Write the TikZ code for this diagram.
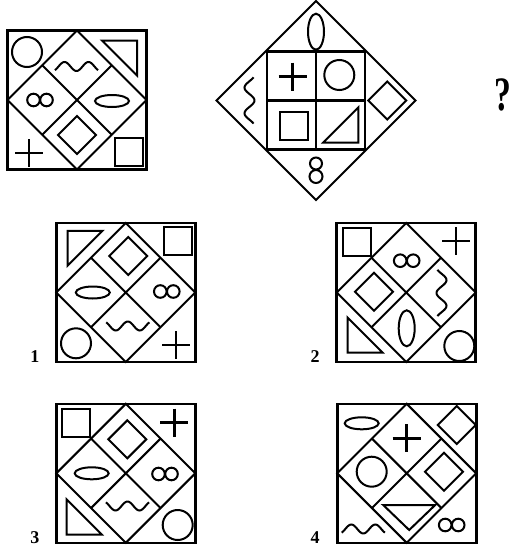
\documentclass[tikz,border=0pt]{standalone}
\usepackage{fontspec}
\setmainfont{Liberation Serif}
\usepackage{tikz}

\tikzset{
  box/.style={line width=2.6pt},
  grid/.style={line width=2pt},
  fig/.style={line width=2pt},
  num/.style={font=\fontsize{18}{18}\selectfont\bfseries, anchor=base},
  frame/.pic={
    \draw[grid] (0,-69.5) -- (69.5,0) -- (0,69.5) -- (-69.5,0) -- cycle;
    \draw[grid] (-34.75,-34.75) -- (34.75,34.75) (34.75,-34.75) -- (-34.75,34.75);
    \draw[box] (-69.5,-69.5) rectangle (69.5,69.5);
  },
  circ/.pic={\draw[fig] (0,0) circle (15);},
  sq/.pic={\draw[fig] (-14,-14) rectangle (14,14);},
  dmd/.pic={\draw[fig] (0,-19) -- (19,0) -- (0,19) -- (-19,0) -- cycle;},
  ell/.pic={\draw[fig] (0,0) ellipse (17 and 6);},
  vell/.pic={\draw[fig] (0,0) ellipse (8 and 18);},
  plus/.pic={\draw[fig, line width=2.5pt] (-14,0) -- (14,0) (0,-14) -- (0,14);},
  infty/.pic={\draw[fig] (-6.5,0) circle (6.3) (6.5,0) circle (6.3);},
  eight/.pic={\draw[fig] (0,-6.5) circle (6) (0,6.5) circle (6.5);},
  wave/.pic={\draw[fig] plot[domain=-144:504, samples=50, smooth] ({\x/15-12}, {-4.5*cos(\x)});},
  vwave/.pic={\draw[fig] plot[domain=-144:504, samples=50, smooth] ({-5*cos(\x)}, {\x/14-12.9});},
  tri/.pic={\draw[fig] (-17.5,-17.5) -- (17.5,-17.5) -- (-17.5,17.5) -- cycle;},
  tridown/.pic={\draw[fig] (-26,-12.5) -- (26,-12.5) -- (0,12.5) -- cycle;}
}

\begin{document}
\begin{tikzpicture}[x=1pt, y=-1pt]
\useasboundingbox (0,0) rectangle (513,549);

% first figure
\begin{scope}[shift={(77,100)}]
  \pic {frame};
  \pic at (-50,-48) {circ};
  \pic[xscale=-1] at (42.5,-42) {tri};
  \pic at (-0.5,-33.5) {wave};
  \pic at (-37,0) {infty};
  \pic at (35,1) {ell};
  \pic at (0,35) {dmd};
  \pic at (-48,53) {plus};
  \pic at (51.5,51.5) {sq};
\end{scope}

% second figure
\begin{scope}[shift={(316,100.5)}]
  \draw[grid, line width=1.8pt] (0,-99.5) -- (99.5,0) -- (0,99.5) -- (-99.5,0) -- cycle;
  \draw[box] (-49,-49) rectangle (49,49);
  \draw[box] (0,-49) -- (0,49) (-49,0) -- (49,0);
  \pic at (0,-68.8) {vell};
  \pic at (-23.3,-23.8) {plus};
  \pic at (23.3,-25.5) {circ};
  \pic at (-22.5,25.8) {sq};
  \pic[xscale=-1, yscale=-1] at (24.8,24.5) {tri};
  \pic at (-66.5,0) {vwave};
  \pic at (71.3,0) {dmd};
  \pic at (0,69.5) {eight};
\end{scope}

\node (q) at (503.3,95) {\scalebox{0.7}[1]{\fontsize{48}{48}\selectfont\bfseries ?}};

% answer 1
\begin{scope}[shift={(125.8,292.5)}]
  \pic {frame};
  \pic at (-40.8,-44.2) {tri};
  \pic at (2.5,-36.5) {dmd};
  \pic at (52,-51.8) {sq};
  \pic at (-33,0) {ell};
  \pic at (41,-1) {infty};
  \pic[yscale=-1] at (2,33.5) {wave};
  \pic at (-49.8,50.8) {circ};
  \pic at (50.2,52.5) {plus};
\end{scope}
\node[num] (n1) at (35,362.5) {1};

% answer 2
\begin{scope}[shift={(406.2,292.5)}]
  \pic {frame};
  \pic at (-49.5,-50.3) {sq};
  \pic at (49.8,-51.5) {plus};
  \pic at (0.5,-31.8) {infty};
  \pic at (-32.2,-0.8) {dmd};
  \pic[xscale=-1] at (35.3,0.5) {vwave};
  \pic at (0.5,35.8) {vell};
  \pic[yscale=-1] at (-41.2,42.5) {tri};
  \pic at (53.1,53.5) {circ};
\end{scope}
\node[num] (n2) at (315,362.5) {2};

% answer 3
\begin{scope}[shift={(125.8,473.3)}]
  \pic {frame};
  \pic at (-50,-50.8) {sq};
  \pic at (1.5,-34) {dmd};
  \pic at (48.5,-50.6) {plus};
  \pic at (-34.1,0) {ell};
  \pic at (39.2,0.7) {infty};
  \pic[yscale=-1] at (1.7,32.7) {wave};
  \pic[yscale=-1] at (-41.6,43.7) {tri};
  \pic at (51.9,51.7) {circ};
\end{scope}
\node[num] (n3) at (35,543) {3};

% answer 4
\begin{scope}[shift={(406.7,473.3)}]
  \pic {frame};
  \pic at (-45,-50) {ell};
  \pic at (0,-35) {plus};
  \pic at (50,-48.3) {dmd};
  \pic at (-35,-1.6) {circ};
  \pic at (37.3,-1.6) {dmd};
  \pic at (2.5,44.2) {tridown};
  \pic at (-43.4,55.7) {wave};
  \pic at (45,51.7) {infty};
\end{scope}
\node[num] (n4) at (315,543) {4};
\end{tikzpicture}
\end{document}
